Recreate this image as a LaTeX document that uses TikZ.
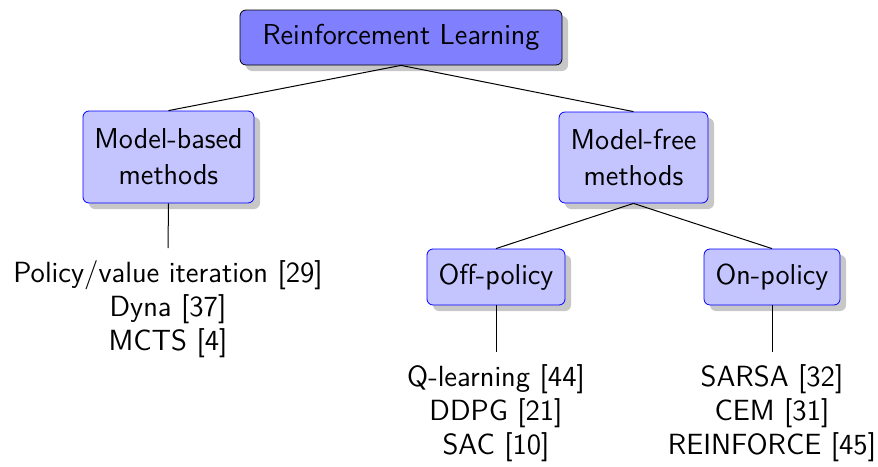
\documentclass[tikz,border=0pt]{standalone}
\usetikzlibrary{shadows}
\begin{document}
\begin{tikzpicture}[x=0.5pt,y=-0.5pt,
  font=\sffamily\Large,
  boxbase/.style={rounded corners=3pt, align=center, inner sep=0pt,
    drop shadow={shadow xshift=3pt, shadow yshift=-3pt, fill=black!22, opacity=1}},
  rootbox/.style={boxbase, draw=black, fill=blue!50},
  catbox/.style={boxbase, draw=blue, fill=blue!23},
  leaf/.style={align=center, anchor=north, inner sep=6pt,
    font=\sffamily\fontsize{14.6}{17}\selectfont},
  link/.style={draw=black, line width=0.5pt}]
\useasboundingbox (0,0) rectangle (878,466);

\node[rootbox, minimum width=161pt, minimum height=27.5pt] (rl) at (401,37.5) {Reinforcement Learning};
\node[catbox, minimum width=85.5pt, minimum height=46pt] (mb) at (168.5,157) {Model-based\\methods};
\node[catbox, minimum width=74.5pt, minimum height=45.5pt] (mf) at (633.5,157.5) {Model-free\\methods};
\node[catbox, minimum width=69pt, minimum height=28pt] (off) at (496,277) {Off-policy};
\node[catbox, minimum width=68pt, minimum height=28pt] (on) at (772,277) {On-policy};

\node[leaf] (mbl) at (168,248) {Policy/value iteration [29]\\Dyna [37]\\MCTS [4]};
\node[leaf] (offl) at (496,352) {Q-learning [44]\\DDPG [21]\\SAC [10]};
\node[leaf] (onl) at (772,352) {SARSA [32]\\CEM [31]\\REINFORCE [45]};

\draw[link] (rl.south) -- (mb.north);
\draw[link] (rl.south) -- (mf.north);
\draw[link] (mf.south) -- (off.north);
\draw[link] (mf.south) -- (on.north);
\draw[link] (mb.south) -- (mbl.north);
\draw[link] (off.south) -- (offl.north);
\draw[link] (on.south) -- (onl.north);
\end{tikzpicture}
\end{document}
